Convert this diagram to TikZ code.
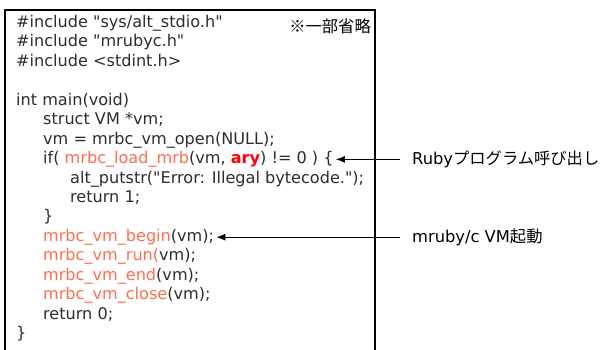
\documentclass[tikz,border=0pt]{standalone}
\usepackage{fontspec}
\setmainfont{DejaVu Sans}[Ligatures=TeXOff]
\newfontfamily\jpfont{Noto Sans CJK JP}
\usetikzlibrary{positioning,arrows.meta}

\definecolor{codegray}{RGB}{45,45,45}
\definecolor{fnorange}{RGB}{255,110,78}
\definecolor{aryred}{RGB}{255,0,0}
\newcommand{\fn}[1]{\textcolor{fnorange}{#1}}

\begin{document}
\begin{tikzpicture}[
    x=1pt, y=-1pt,
    code/.style={
        anchor=base west,
        inner sep=0pt,
        text=codegray,
        font=\fontsize{16.1}{19}\selectfont
    },
    note/.style={
        anchor=west,
        inner xsep=12pt,
        inner ysep=0pt,
        text=black,
        font=\fontsize{16.3}{19}\selectfont
    },
    frame/.style={draw, line width=1.3pt},
    arrow/.style={-{Latex[length=9pt,width=7pt]}, line width=1.1pt, shorten >=2pt}
]
\useasboundingbox (0,0) rectangle (614,349);
\clip (0,0) rectangle (614,349);
\draw[frame] (5,10) rectangle (375,370);

% code lines
\node[code] (inc1) at (16,27.5) {\#include "sys/alt\_stdio.h"};
\node[code] (inc2) at (16,46.9) {\#include "mrubyc.h"};
\node[code] (inc3) at (16,66.4) {\#include <stdint.h>};
\node[code] (mainline) at (16,105.2) {int main(void)};
\node[code] (vmdecl) at (43,124.7) {struct VM *vm;};
\node[code] (vmopen) at (43,144.1) {vm = mrbc\_vm\_open(NULL);};
\node[code] (ifline) at (43,163.6) {if( \fn{mrbc\_load\_mrb}(vm, \textcolor{aryred}{\textbf{ary}}) != 0 ) \{};
\node[code] (putstr) at (70,183.0) {alt\_putstr("Error: Illegal bytecode.");};
\node[code] (ret1) at (70,202.5) {return 1;};
\node[code] (ifend) at (43,221.9) {\}};
\node[code] (vmbegin) at (43,241.4) {\fn{mrbc\_vm\_begin}(vm);};
\node[code] (vmrun) at (43,260.8) {\fn{mrbc\_vm\_run(}vm);};
\node[code] (vmend) at (43,280.2) {\fn{mrbc\_vm\_end}(vm);};
\node[code] (vmclose) at (43,299.7) {\fn{mrbc\_vm\_close}(vm);};
\node[code] (ret0) at (43,319.1) {return 0;};
\node[code] (mainend) at (16,338.6) {\}};

\node[note, inner xsep=0pt, anchor=east] (omit) at (371,26) {\jpfont ※一部省略};

% labels
\node[note] (lblload) at (ifline.east -| 400,0) {Ruby\jpfont プログラム呼び出し};
\node[note] (lblbegin) at (vmbegin.east -| 400,0) {mruby/c VM\jpfont 起動};

\draw[arrow] (lblload.west) -- (ifline.east);
\draw[arrow] (lblbegin.west) -- (vmbegin.east);
\end{tikzpicture}
\end{document}
